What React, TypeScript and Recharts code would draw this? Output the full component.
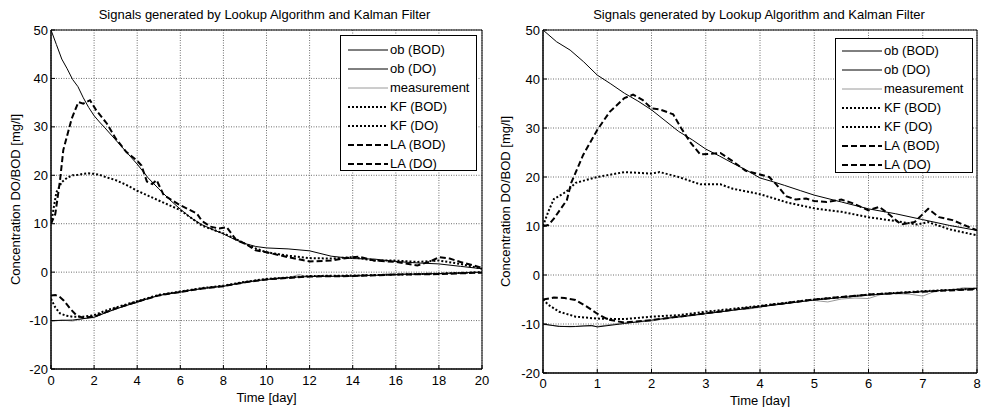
import React from "react";
import { LineChart, Line, XAxis, YAxis, CartesianGrid, ReferenceArea, Legend } from "recharts";

type Pt = [number, number];

const TITLE = "Signals generated by Lookup Algorithm and Kalman Filter";
const Y_LABEL = "Concentration DO/BOD [mg/l]";
const X_LABEL = "Time [day]";
const SERIES_NAMES = ["ob (BOD)", "ob (DO)", "measurement", "KF (BOD)", "KF (DO)", "LA (BOD)", "LA (DO)"];
const SERIES_KINDS = ["ob", "ob", "meas", "kf", "kf", "la", "la"];

const yTicks = [-20, -10, 0, 10, 20, 30, 40, 50];
const leftXTicks = [0, 2, 4, 6, 8, 10, 12, 14, 16, 18, 20];
const rightXTicks = [0, 1, 2, 3, 4, 5, 6, 7, 8];

// ---------- Left panel (0..20 days) ----------
const leftObBod: Pt[] = [
  [0, 50], [0.25, 47], [0.5, 44], [0.75, 42], [1, 39.8], [1.25, 38.3], [1.5, 36], [1.75, 34], [2, 32.3],
  [2.25, 31], [2.5, 29.8], [3, 27.3], [3.5, 24.8], [4, 22.3], [4.5, 19.5], [5, 17.2], [5.5, 15], [6, 13],
  [6.5, 11.2], [7, 9.8], [7.5, 8.8], [8, 7.9], [8.5, 6.8], [9, 5.9], [9.5, 5.3], [10, 5.0], [11, 4.8],
  [12, 4.4], [13, 3.3], [14, 2.8], [15, 2.7], [16, 2.2], [17, 1.9], [18, 1.7], [19, 1.2], [20, 0.7],
];
const leftObDo: Pt[] = [
  [0, -10], [1, -9.9], [2, -9.3], [3, -7.6], [4, -6.2], [5, -4.8], [6, -4.1], [7, -3.4], [8, -2.9],
  [9, -2.1], [10, -1.5], [11, -1.1], [12, -0.9], [14, -0.8], [16, -0.5], [18, -0.3], [20, 0],
];
const leftMeasT = [0, 0.5, 1, 1.5, 2, 2.5, 3, 3.5, 4, 4.5, 5, 5.5, 6, 6.5, 7, 7.5, 8, 8.5, 9, 9.5, 10, 10.5, 11, 11.5, 12, 12.5, 13, 13.5, 14, 14.5, 15, 15.5, 16, 16.5, 17, 17.5, 18, 18.5, 19, 19.5, 20];
const leftMeasV = [-10.2, -9.9, -10.1, -9.6, -9.4, -8.4, -7.7, -6.8, -6.3, -5.4, -4.9, -4.3, -4.2, -3.6, -3.5, -3.0, -3.0, -2.4, -2.2, -1.7, -1.6, -1.2, -1.2, -0.5, -1.0, -0.7, -0.9, -0.7, -0.9, -0.5, -0.7, -0.4, -0.6, -0.2, -0.5, -0.2, -0.4, -0.2, -0.3, 0.0, -0.1];
const leftKfBod: Pt[] = [
  [0, 10], [0.25, 16.5], [0.5, 18.6], [0.75, 19.5], [1, 20], [1.25, 20.1], [1.5, 20.3], [1.75, 20.4], [2, 20.3],
  [2.25, 20.1], [2.5, 19.7], [3, 19], [3.5, 18], [4, 16.8], [4.5, 15.8], [5, 14.8], [5.5, 13.8], [6, 12.8],
  [6.5, 11.2], [7, 9.6], [7.5, 8.8], [8, 8], [8.5, 7], [9, 5.9], [9.5, 4.9], [10, 4.1], [11, 3.4], [12, 2.9],
  [13, 2.8], [14, 3.1], [15, 2.4], [16, 2.4], [17, 2.1], [18, 2.4], [19, 1.7], [20, 0.7],
];
const leftKfDo: Pt[] = [
  [0, -5.5], [0.2, -7.3], [0.42, -8.5], [0.7, -9], [1, -9.2], [1.5, -9.2], [2, -8.9], [2.5, -8], [3, -7.3],
  [4, -6], [5, -4.7], [6, -4], [7, -3.3], [8, -2.8], [9, -2], [10, -1.4], [12, -0.8], [14, -0.7], [16, -0.5],
  [18, -0.3], [20, 0],
];
const leftLaBod: Pt[] = [
  [0, 10], [0.2, 12], [0.42, 19], [0.57, 25.2], [0.96, 31.7], [1.27, 35.1], [1.5, 34.8], [1.81, 35.5],
  [2.1, 33.4], [2.59, 30.7], [3, 27.6], [3.5, 24.8], [4, 23], [4.2, 22], [4.45, 18.7], [4.7, 18.2], [4.9, 19],
  [5.23, 15.9], [6, 13.8], [6.77, 12.1], [7, 10.6], [7.4, 9.4], [7.8, 9.0], [8.15, 9.3], [8.6, 6.6], [9, 5.9],
  [9.5, 4.5], [10, 4.1], [11, 3.1], [12, 2.2], [13, 2.4], [14, 3.1], [14.3, 3.2], [15, 2.4], [16, 2.1],
  [17, 1.4], [17.6, 2.2], [18, 3.1], [18.5, 2.8], [19, 2.1], [20, 0.9],
];
const leftLaDo: Pt[] = [
  [0, -4.8], [0.2, -4.7], [0.4, -5.1], [0.6, -5.9], [0.9, -7.6], [1.2, -9], [1.5, -9.4], [2, -9.2], [3, -7.5],
  [4, -6.1], [5, -4.8], [6, -4.1], [7, -3.4], [8, -2.9], [9, -2.1], [10, -1.5], [12, -0.9], [14, -0.8],
  [16, -0.5], [18, -0.4], [20, -0.1],
];

// ---------- Right panel (0..8 days) ----------
const rightObBod: Pt[] = [
  [0, 50], [0.25, 47.6], [0.5, 45.9], [0.75, 43.5], [1, 40.8], [1.25, 39], [1.5, 37.1], [1.75, 35.5], [2, 33.7],
  [2.25, 31.5], [2.5, 29.3], [2.75, 27.6], [3, 25.7], [3.25, 24.3], [3.5, 22.8], [3.75, 21.4], [4, 19.8],
  [4.25, 19], [4.45, 18.3], [4.75, 17.2], [5, 16.3], [5.5, 14.9], [6, 13.5], [6.5, 12.5], [7, 11.3],
  [7.5, 10.1], [8, 9.1],
];
const rightObDo: Pt[] = [
  [0, -10], [0.3, -10.5], [0.6, -10.5], [0.9, -10.3], [1, -10.6], [1.5, -9.9], [2, -9.2], [3, -7.9],
  [4, -6.5], [5, -5.1], [6, -4.1], [7, -3.4], [8, -2.7],
];
const rightMeasT = [0, 0.25, 0.5, 0.75, 1, 1.25, 1.5, 1.75, 2, 2.25, 2.5, 2.75, 3, 3.25, 3.5, 3.75, 4, 4.25, 4.5, 4.75, 5, 5.25, 5.5, 5.75, 6, 6.25, 6.5, 6.75, 7, 7.25, 7.5, 7.75, 8];
const rightMeasV = [-10.1, -10.4, -10.6, -10.4, -10.5, -10.1, -9.7, -9.6, -9.4, -8.8, -8.6, -8.3, -7.8, -7.6, -7.1, -7.0, -6.6, -6.0, -5.8, -5.3, -5.2, -5.5, -4.9, -4.7, -4.8, -3.9, -3.8, -3.9, -4.3, -3.2, -3.1, -2.6, -2.7];
const rightKfBod: Pt[] = [
  [0, 10], [0.1, 13], [0.2, 15.5], [0.43, 17], [0.6, 18.8], [1, 20], [1.5, 21], [2, 20.7], [2.15, 21],
  [2.5, 20], [2.9, 18.5], [3.27, 18.5], [3.5, 17.6], [4, 16.5], [4.5, 14.8], [5, 13.6], [5.5, 12.9], [6, 11.8],
  [6.5, 11], [6.9, 10.3], [7.1, 10.8], [7.5, 9.3], [8, 8.1],
];
const rightKfDo: Pt[] = [
  [0, -5], [0.1, -6.1], [0.3, -7.5], [0.6, -8.5], [1, -8.9], [1.5, -9], [2, -8.5], [2.5, -8.2], [3, -7.5],
  [4, -6.3], [5, -5], [6, -4], [7, -3.3], [8, -2.8],
];
const rightLaBod: Pt[] = [
  [0, 10], [0.1, 10.2], [0.2, 11.5], [0.44, 15.3], [0.52, 18.8], [0.74, 24.5], [1, 29.6], [1.23, 33.3],
  [1.5, 36.1], [1.66, 36.8], [1.84, 35.7], [2, 34], [2.15, 33.8], [2.4, 32.8], [2.54, 30.1], [2.72, 27],
  [2.9, 24.6], [3.27, 24.9], [3.5, 23.2], [3.73, 21.3], [4.17, 20], [4.3, 18.5], [4.48, 16.1], [4.66, 15.4],
  [4.85, 15.6], [5, 15.1], [5.23, 14.9], [5.5, 15.4], [5.72, 14.6], [6, 13.2], [6.2, 13.9], [6.4, 12.2],
  [6.6, 10.3], [6.85, 10.8], [7.1, 13.5], [7.3, 11.8], [7.55, 11.2], [8, 9.1],
];
const rightLaDo: Pt[] = [
  [0, -5], [0.2, -4.6], [0.4, -4.7], [0.6, -5.1], [0.8, -6.4], [1, -7.9], [1.2, -9.1], [1.5, -9.7], [2, -9.2],
  [3, -7.8], [4, -6.4], [5, -5], [6, -4], [7, -3.4], [8, -2.9],
];

const FONT = '"Liberation Sans", Arial, Helvetica, sans-serif';

const STYLE: Record<string, { stroke: string; strokeWidth: number; strokeDasharray?: string }> = {
  ob: { stroke: "#000", strokeWidth: 1 },
  meas: { stroke: "#9a9a9a", strokeWidth: 1 },
  kf: { stroke: "#000", strokeWidth: 2, strokeDasharray: "2 2" },
  la: { stroke: "#000", strokeWidth: 2, strokeDasharray: "6 3" },
};

const toData = (pts: Pt[]) => pts.map(([t, v]) => ({ t, v }));
const zip = (ts: number[], vs: number[]) => ts.map((t, i) => ({ t, v: vs[i] }));

type PanelProps = {
  x0: number;
  width: number;
  yAxisWidth: number;
  rightMargin: number;
  xAxisHeight: number;
  xMax: number;
  xTicks: number[];
  seriesData: { t: number; v: number }[][];
  legendLeft: number;
  legendTop: number;
  legendW: number;
  legendH: number;
  legendPadTop: number;
  legendPadLeft: number;
  rowH: number;
  yLabelX: number;
  xLabelY: number;
  titleShift: number;
  xTickMargin: number;
};

function LegendBox(p: PanelProps) {
  return (
    <div
      style={{
        width: p.legendW,
        height: p.legendH,
        boxSizing: "border-box",
        border: "1px solid #000",
        background: "#fff",
        paddingTop: p.legendPadTop,
        paddingLeft: p.legendPadLeft,
        fontFamily: FONT,
        fontSize: 13,
        color: "#000",
      }}
    >
      {SERIES_NAMES.map((name, i) => {
        const s = STYLE[SERIES_KINDS[i]];
        return (
          <div key={name} style={{ display: "flex", alignItems: "center", height: p.rowH }}>
            <svg width={40} height={6} style={{ display: "block" }}>
              <line x1={0} x2={40} y1={3} y2={3} stroke={s.stroke} strokeWidth={s.strokeWidth} strokeDasharray={s.strokeDasharray} />
            </svg>
            <span style={{ marginLeft: 2, whiteSpace: "nowrap", lineHeight: "15px" }}>{name}</span>
          </div>
        );
      })}
    </div>
  );
}

function Panel(p: PanelProps) {
  const H = 407;
  const top = 30;
  const plotLeft = p.yAxisWidth;
  const plotRight = p.width - p.rightMargin;
  const plotBottom = H - p.xAxisHeight;
  const cx = (plotLeft + plotRight) / 2;
  const cy = (top + plotBottom) / 2;
  return (
    <div style={{ position: "absolute", left: p.x0, top: 0, width: p.width, height: H }}>
      <div
        style={{
          position: "absolute",
          top: 7,
          left: plotLeft + p.titleShift,
          width: plotRight - plotLeft,
          textAlign: "center",
          fontFamily: FONT,
          fontSize: 13,
          lineHeight: "15px",
          color: "#000",
          whiteSpace: "nowrap",
          zIndex: 2,
        }}
      >
        {TITLE}
      </div>
      <LineChart width={p.width} height={H} margin={{ top, right: p.rightMargin, bottom: 0, left: 0 }}>
        <CartesianGrid stroke="#6e6e6e" strokeDasharray="1 1.5" strokeWidth={1} />
        <XAxis
          dataKey="t"
          type="number"
          domain={[0, p.xMax]}
          ticks={p.xTicks}
          allowDataOverflow
          height={p.xAxisHeight}
          axisLine={{ stroke: "#000" }}
          tickLine={{ stroke: "#000" }}
          tickSize={-4}
          tickMargin={p.xTickMargin}
          tick={{ fill: "#000", fontSize: 13, fontFamily: FONT }}
          label={{
            content: () => (
              <text x={cx} y={p.xLabelY} textAnchor="middle" dominantBaseline="central" fill="#000" fontSize={13} fontFamily={FONT}>
                {X_LABEL}
              </text>
            ),
          }}
        />
        <XAxis
          xAxisId="top"
          orientation="top"
          type="number"
          domain={[0, p.xMax]}
          ticks={p.xTicks}
          height={0}
          axisLine={false}
          tickLine={{ stroke: "#000" }}
          tickSize={-4}
          tickFormatter={() => ""}
        />
        <YAxis
          type="number"
          domain={[-20, 50]}
          ticks={yTicks}
          allowDataOverflow
          width={p.yAxisWidth}
          axisLine={{ stroke: "#000" }}
          tickLine={{ stroke: "#000" }}
          tickSize={-4}
          tickMargin={7}
          tick={{ fill: "#000", fontSize: 13, fontFamily: FONT }}
          label={{
            content: () => (
              <text
                x={p.yLabelX}
                y={cy}
                transform={`rotate(-90, ${p.yLabelX}, ${cy})`}
                textAnchor="middle"
                dominantBaseline="central"
                fill="#000"
                fontSize={13}
                fontFamily={FONT}
              >
                {Y_LABEL}
              </text>
            ),
          }}
        />
        <YAxis
          yAxisId="right"
          orientation="right"
          type="number"
          domain={[-20, 50]}
          ticks={yTicks}
          width={0}
          axisLine={false}
          tickLine={{ stroke: "#000" }}
          tickSize={-4}
          tickFormatter={() => ""}
        />
        <ReferenceArea x1={0} x2={p.xMax} y1={-20} y2={50} fill="none" fillOpacity={0} stroke="#000" strokeWidth={1} />
        {[2, 0, 1, 3, 4, 5, 6].map((i) => {
          const s = STYLE[SERIES_KINDS[i]];
          return (
            <Line
              key={SERIES_NAMES[i]}
              name={SERIES_NAMES[i]}
              data={p.seriesData[i]}
              dataKey="v"
              type="linear"
              dot={false}
              activeDot={false}
              isAnimationActive={false}
              stroke={s.stroke}
              strokeWidth={s.strokeWidth}
              strokeDasharray={s.strokeDasharray}
              legendType="line"
            />
          );
        })}
        <Legend
          layout="horizontal"
          verticalAlign="middle"
          align="center"
          wrapperStyle={{ left: p.legendLeft, top: p.legendTop, width: p.legendW, height: p.legendH }}
          content={() => <LegendBox {...p} />}
        />
      </LineChart>
    </div>
  );
}

export default function App() {
  const leftSeries = [
    toData(leftObBod),
    toData(leftObDo),
    zip(leftMeasT, leftMeasV),
    toData(leftKfBod),
    toData(leftKfDo),
    toData(leftLaBod),
    toData(leftLaDo),
  ];
  const rightSeries = [
    toData(rightObBod),
    toData(rightObDo),
    zip(rightMeasT, rightMeasV),
    toData(rightKfBod),
    toData(rightKfDo),
    toData(rightLaBod),
    toData(rightLaDo),
  ];
  return (
    <div style={{ position: "absolute", left: 0, top: 0, width: 983, height: 407, background: "#fff", overflow: "hidden" }}>
      <Panel
        x0={0}
        width={490}
        yAxisWidth={51}
        rightMargin={8}
        xAxisHeight={38}
        xMax={20}
        xTicks={leftXTicks}
        seriesData={leftSeries}
        legendLeft={340}
        legendTop={35}
        legendW={137}
        legendH={136}
        legendPadTop={4}
        legendPadLeft={7}
        rowH={19}
        yLabelX={15}
        xLabelY={397}
        titleShift={-2}
        xTickMargin={11}
      />
      <Panel
        x0={490}
        width={493}
        yAxisWidth={53}
        rightMargin={6}
        xAxisHeight={34}
        xMax={8}
        xTicks={rightXTicks}
        seriesData={rightSeries}
        legendLeft={345}
        legendTop={38}
        legendW={138}
        legendH={135}
        legendPadTop={2}
        legendPadLeft={6}
        rowH={19}
        yLabelX={15}
        xLabelY={400}
        titleShift={-1}
        xTickMargin={10}
      />
    </div>
  );
}
